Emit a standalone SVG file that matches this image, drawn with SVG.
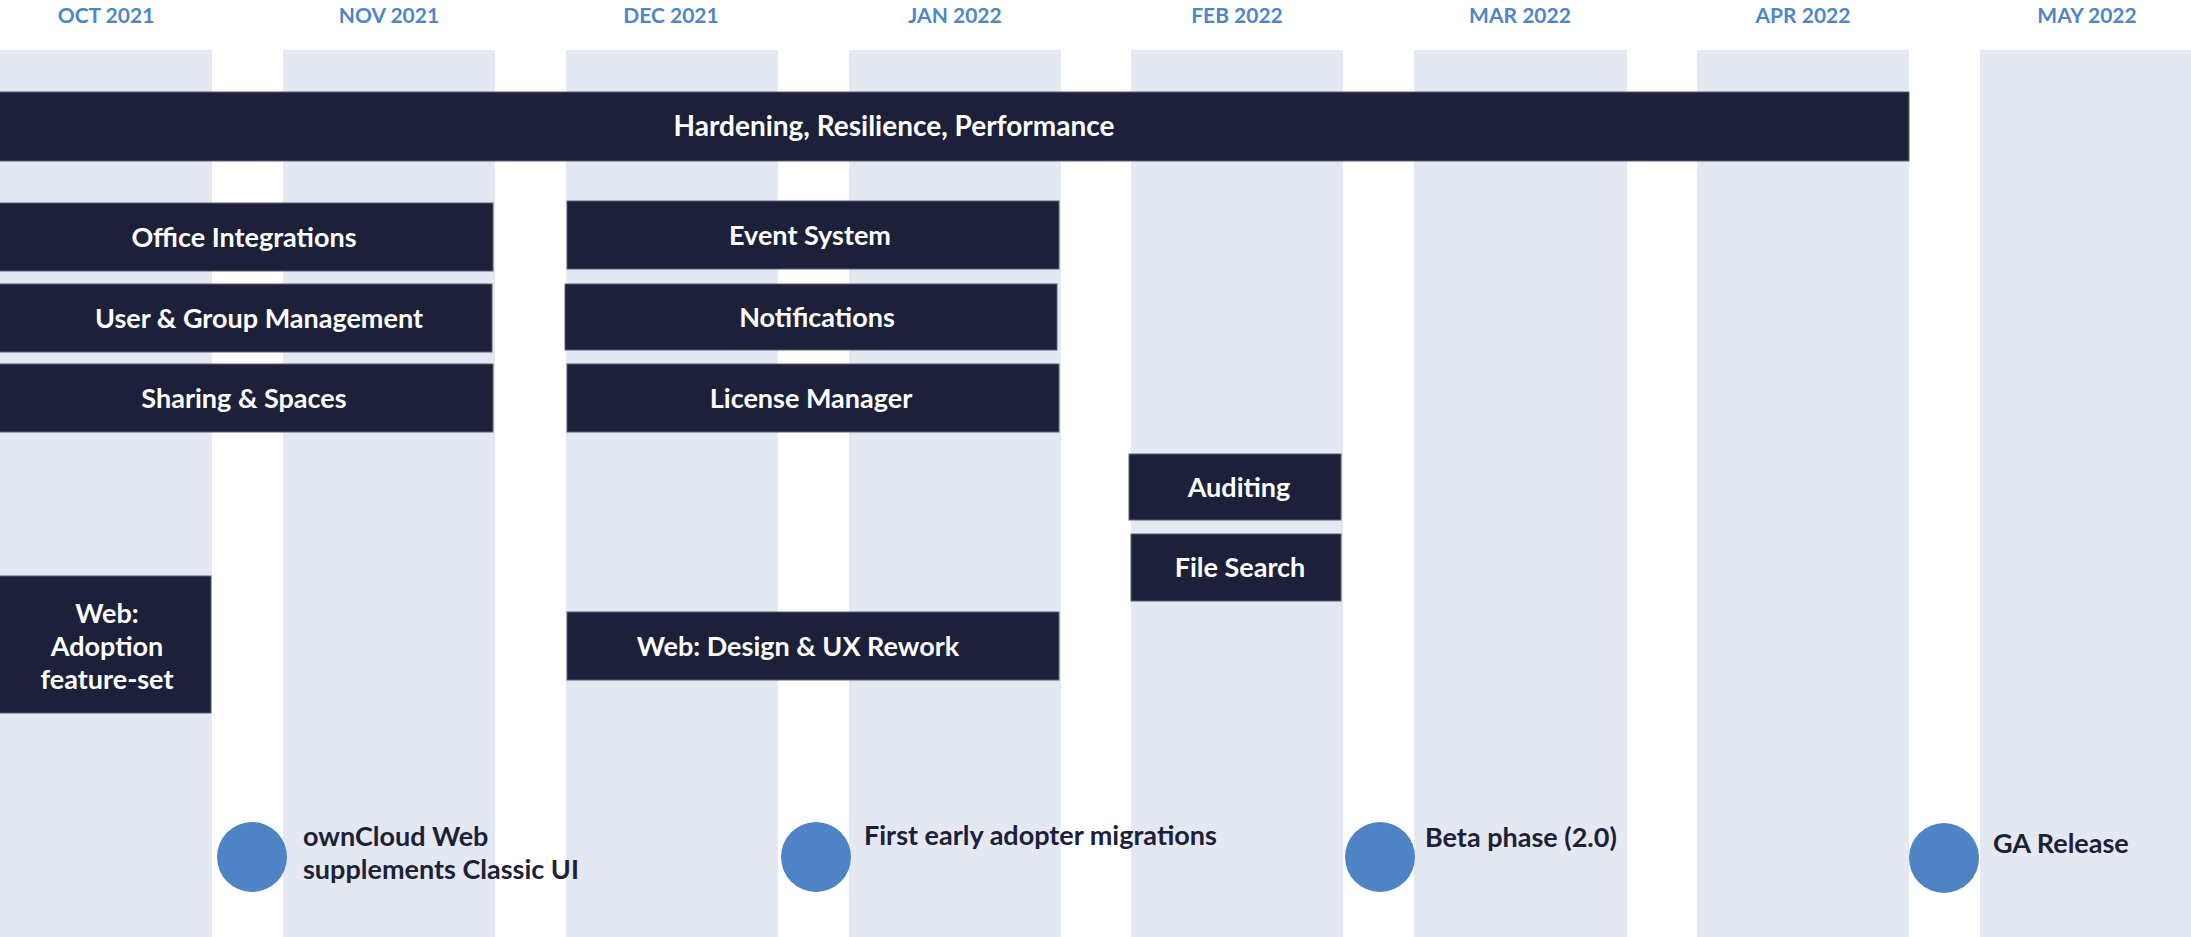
<svg xmlns="http://www.w3.org/2000/svg" width="2191" height="937" viewBox="0 0 2191 937">
<style>
.col{fill:#E4E8F1}
.month{font-family:Lato,"Liberation Sans",sans-serif;font-weight:700;font-size:21px;fill:#4F86C6;text-anchor:middle}
.bar{fill:#1C2139;stroke:#5A6078;stroke-width:1}
.bt{font-family:Lato,"Liberation Sans",sans-serif;font-weight:700;font-size:27px;fill:#FFFFFF;text-anchor:middle}
.ms{fill:#4E84C5}
.mt{font-family:Lato,"Liberation Sans",sans-serif;font-weight:700;font-size:27px;fill:#1C2139}
</style>
<rect width="2191" height="937" fill="#FFFFFF"/>
<g id="columns">
<rect class="col" x="0" y="50" width="212" height="887"/>
<rect class="col" x="283" y="50" width="212" height="887"/>
<rect class="col" x="566" y="50" width="212" height="887"/>
<rect class="col" x="849" y="50" width="212" height="887"/>
<rect class="col" x="1131" y="50" width="212" height="887"/>
<rect class="col" x="1414" y="50" width="213" height="887"/>
<rect class="col" x="1697" y="50" width="212" height="887"/>
<rect class="col" x="1980" y="50" width="211" height="887"/>
</g>
<g id="months">
<text class="month" x="106" y="23">OCT 2021</text>
<text class="month" x="389" y="23">NOV 2021</text>
<text class="month" x="671" y="23">DEC 2021</text>
<text class="month" x="955" y="23">JAN 2022</text>
<text class="month" x="1237" y="23">FEB 2022</text>
<text class="month" x="1520" y="23">MAR 2022</text>
<text class="month" x="1803" y="23">APR 2022</text>
<text class="month" x="2087" y="23">MAY 2022</text>
</g>
<g id="connectors"></g>
<g id="hardening"><rect class="bar" x="-1" y="92" width="1910" height="69"/><text class="bt" x="894" y="136" style="font-size:28px">Hardening, Resilience, Performance</text></g>
<g id="office"><rect class="bar" x="-1" y="203" width="494" height="68"/><text class="bt" x="244" y="247">Office Integrations</text></g>
<g id="usergroup"><rect class="bar" x="-1" y="284" width="493" height="68"/><text class="bt" x="259" y="328">User &amp; Group Management</text></g>
<g id="sharing"><rect class="bar" x="-1" y="364" width="494" height="68"/><text class="bt" x="244" y="408">Sharing &amp; Spaces</text></g>
<g id="event"><rect class="bar" x="567" y="201" width="492" height="68"/><text class="bt" x="810" y="245">Event System</text></g>
<g id="notifications"><rect class="bar" x="565" y="284" width="492" height="66"/><text class="bt" x="817" y="327">Notifications</text></g>
<g id="license"><rect class="bar" x="567" y="364" width="492" height="68"/><text class="bt" x="811" y="408">License Manager</text></g>
<g id="auditing"><rect class="bar" x="1129" y="454" width="212" height="66"/><text class="bt" x="1239" y="497">Auditing</text></g>
<g id="filesearch"><rect class="bar" x="1131" y="534" width="210" height="67"/><text class="bt" x="1240" y="577">File Search</text></g>
<g id="webdesign"><rect class="bar" x="567" y="612" width="492" height="68"/><text class="bt" x="798" y="656">Web: Design &amp; UX Rework</text></g>
<g id="webadoption"><rect class="bar" x="-1" y="576" width="212" height="137"/><text class="bt" x="107" y="623">Web:</text><text class="bt" x="107" y="656">Adoption</text><text class="bt" x="107" y="689">feature-set</text></g>
<g id="m1"><circle class="ms" cx="252" cy="857" r="35"/><text class="mt" x="303" y="846">ownCloud Web</text><text class="mt" x="303" y="879">supplements Classic UI</text></g>
<g id="m2"><circle class="ms" cx="816" cy="857" r="35"/><text class="mt" x="864" y="845">First early adopter migrations</text></g>
<g id="m3"><circle class="ms" cx="1380" cy="857" r="35"/><text class="mt" x="1425" y="847">Beta phase (2.0)</text></g>
<g id="m4"><circle class="ms" cx="1944" cy="858" r="35"/><text class="mt" x="1993" y="853">GA Release</text></g>
</svg>
